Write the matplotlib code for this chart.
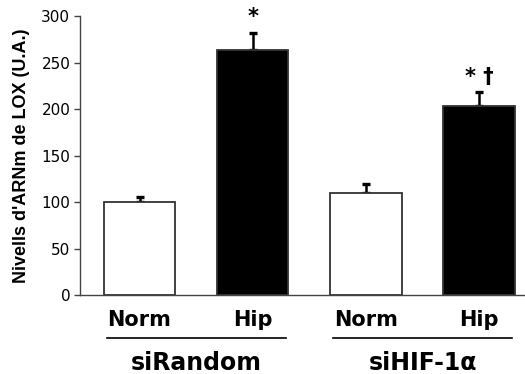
import matplotlib
matplotlib.use("Agg")
import matplotlib.pyplot as plt
import matplotlib.transforms as mtransforms

# data
conditions = ["Norm", "Hip", "Norm", "Hip"]
values = [100, 263, 110, 203]
errors = [5, 19, 9, 15]
groups = ["siRandom", "siHIF-1\u03b1"]
marks = ["", "*", "", "* \u2020"]

x = list(range(len(values)))
colors = ["white", "black", "white", "black"]

fig = plt.figure(figsize=(5.25, 3.74), dpi=100)
ax = fig.add_axes([0.1524, 0.2112, 0.8476, 0.746])

ax.bar(x, values, width=0.63, color=colors, edgecolor="#333333", linewidth=1.3, zorder=2)
ax.errorbar(x, values, yerr=[[0] * len(errors), errors], fmt="none", ecolor="black",
            elinewidth=1.8, capsize=3, capthick=2.4, zorder=1)

ax.set_xlim(-0.526, 3.405)
ax.set_ylim(0, 300)
ax.set_yticks(range(0, 301, 50))
ax.tick_params(axis="y", direction="out", length=4, width=1, color="#444444",
               labelsize=11, pad=3)
ax.set_xticks(x)
ax.set_xticklabels(conditions, fontsize=15, fontweight="bold")
ax.tick_params(axis="x", length=0, pad=11)

for side in ["top", "right"]:
    ax.spines[side].set_visible(False)
for side in ["left", "bottom"]:
    ax.spines[side].set_color("#444444")
    ax.spines[side].set_linewidth(1)

ax.set_ylabel("Nivells d'ARNm de LOX (U.A.)", fontfamily="Liberation Sans",
              fontweight="bold", fontsize=13, labelpad=8)

# significance marks above error bars
for xi, v, e, m in zip(x, values, errors, marks):
    if m:
        ax.annotate(m, (xi, v + e), xytext=(0, 4), textcoords="offset points",
                    ha="center", va="bottom", fontsize=15, fontweight="bold")

# group labels with underline
trans = mtransforms.blended_transform_factory(ax.transData, ax.transAxes)
for gi, name in enumerate(groups):
    c = 0.5 + 2 * gi
    ax.plot([c - 0.79, c + 0.79], [-0.154, -0.154], transform=trans, color="black",
            linewidth=1.2, clip_on=False)
    ax.text(c, -0.2, name, transform=trans, ha="center", va="top",
            fontsize=17, fontweight="bold")

fig.savefig("out.png", dpi=100)
